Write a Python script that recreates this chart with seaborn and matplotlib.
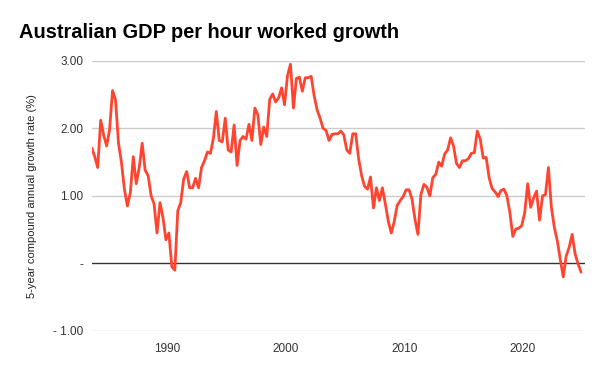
import pandas as pd
import matplotlib
matplotlib.use('Agg')
import matplotlib.pyplot as plt
import matplotlib.dates as mdates
import seaborn as sns

# Quarterly series, first quarter Sep 1983
start_quarter = '1983-09-01'
growth = [
    1.71, 1.58, 1.42, 2.12, 1.90, 1.74, 1.98, 2.56, 2.42, 1.78,
    1.50, 1.10, 0.85, 1.05, 1.58, 1.18, 1.42, 1.78, 1.38, 1.30,
    1.00, 0.88, 0.45, 0.90, 0.68, 0.35, 0.45, -0.05, -0.10, 0.78,
    0.90, 1.25, 1.36, 1.12, 1.12, 1.26, 1.12, 1.42, 1.52, 1.65,
    1.63, 1.85, 2.25, 1.82, 1.80, 2.15, 1.68, 1.65, 2.05, 1.45,
    1.82, 1.88, 1.84, 2.06, 1.82, 2.30, 2.20, 1.76, 2.02, 1.88,
    2.43, 2.51, 2.39, 2.45, 2.60, 2.35, 2.78, 2.95, 2.30, 2.74,
    2.76, 2.55, 2.75, 2.75, 2.77, 2.48, 2.27, 2.15, 2.00, 1.97,
    1.82, 1.91, 1.92, 1.92, 1.96, 1.90, 1.68, 1.63, 1.92, 1.92,
    1.55, 1.30, 1.14, 1.10, 1.28, 0.82, 1.12, 0.93, 1.12, 0.88,
    0.62, 0.45, 0.62, 0.86, 0.93, 0.99, 1.09, 1.09, 0.95, 0.65,
    0.43, 1.02, 1.17, 1.13, 1.00, 1.27, 1.32, 1.50, 1.44, 1.62,
    1.68, 1.86, 1.74, 1.48, 1.42, 1.52, 1.52, 1.55, 1.63, 1.64,
    1.96, 1.84, 1.56, 1.57, 1.27, 1.11, 1.06, 0.99, 1.08, 1.10,
    1.00, 0.75, 0.40, 0.51, 0.52, 0.56, 0.75, 1.18, 0.83, 0.97,
    1.07, 0.64, 1.00, 1.02, 1.42, 0.83, 0.53, 0.33, 0.06, -0.20,
    0.11, 0.24, 0.43, 0.14, -0.01, -0.13,
]
y_ticks = [-1, 0, 1, 2, 3]
y_tick_labels = ['- 1.00', '-', '1.00', '2.00', '3.00']
x_tick_years = [1990, 2000, 2010, 2020]

df = pd.DataFrame({
    'date': pd.date_range(start_quarter, periods=len(growth), freq='QS-MAR'),
    'growth': growth,
})

sns.set_style('white')
plt.rcParams['font.family'] = ['Liberation Sans', 'DejaVu Sans']

fig = plt.figure(figsize=(6, 3.71), dpi=100)
ax = fig.add_axes([0.153, 0.108, 0.822, 0.728])

for yv in y_ticks:
    ax.axhline(yv, color='#cccccc' if yv != 0 else '#333333', lw=1, zorder=1)

sns.lineplot(data=df, x='date', y='growth', ax=ax, color='#ff4430', lw=2, zorder=3)

ax.set_xlim(df['date'].iloc[0], pd.Timestamp('2025-04-01'))
ax.set_ylim(-1, 3)
ax.set_yticks(y_ticks)
ax.set_yticklabels(y_tick_labels)
ax.set_xticks([pd.Timestamp(f'{y}-01-01') for y in x_tick_years])
ax.xaxis.set_major_formatter(mdates.DateFormatter('%Y'))
ax.tick_params(axis='both', length=0, labelsize=8.5, labelcolor='#333333')
ax.tick_params(axis='y', pad=6)
ax.tick_params(axis='x', pad=9)
sns.despine(ax=ax, left=True, bottom=True)

ax.set_xlabel('')
ax.set_ylabel('5-year compound annual growth rate (%)', fontsize=8, color='#222222', labelpad=12)

fig.text(0.031, 0.913, 'Australian GDP per hour worked growth',
         fontsize=14.4, fontweight='bold', color='black', ha='left', va='center')

fig.savefig('out.png', dpi=100)
